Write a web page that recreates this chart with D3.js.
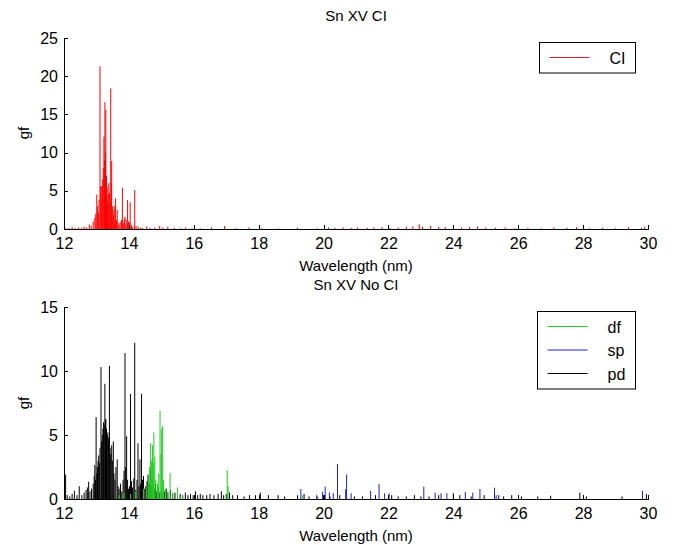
<!DOCTYPE html>
<meta charset="utf-8">
<script src="https://cdn.jsdelivr.net/npm/d3@7"></script>
<style>
body { margin: 0; background: #fff; }
text { font-family: "Liberation Sans", Arial, sans-serif; font-size: 15px; fill: #000; }
.axis path, .axis line { stroke: #000; stroke-width: 1px; shape-rendering: crispEdges; }
</style>
<body>
<script>

// Sn XV, lines with configuration interaction (CI)
var ciWl = [12.05,12.15,12.25,12.35,12.45,12.55,12.62,12.70,12.78,12.84,12.90,12.95,12.98,13.01,13.03,13.06,13.08,13.11,13.13,13.15,
  13.17,13.19,13.21,13.23,13.25,13.26,13.28,13.29,13.31,13.33,13.34,13.36,13.38,13.40,13.42,13.44,13.46,13.47,13.49,13.51,
  13.53,13.55,13.57,13.59,13.62,13.64,13.67,13.70,13.73,13.77,13.80,13.83,13.86,13.88,13.91,13.94,13.96,13.99,14.02,14.04,
  14.08,14.12,14.18,14.22,14.28,14.35,14.42,14.55,14.65,14.80,14.95,15.05,15.20,15.40,15.60,15.75,15.95,16.20,16.55,16.95,
  17.30,17.70,18.10,18.60,19.20,19.80,20.15,20.35,20.60,20.85,21.05,21.35,21.55,21.80,22.05,22.30,22.55,22.75,22.95,23.05,
  23.30,23.55,23.75,24.00,24.25,24.50,24.75,25.00,25.30,25.60,25.90,26.30,26.70,27.10,27.50,27.80,28.20,28.60,29.00,29.40,
  29.80,29.90];
var ciGf = [0.1,0.15,0.3,0.1,0.2,0.15,0.3,0.2,0.6,0.4,1.0,1.5,2.0,4.5,3.0,2.2,3.8,21.3,5.6,5.6,
  4.0,6.5,8.0,12.1,9.0,16.6,10.0,15.6,7.0,5.5,3.3,4.5,6.0,4.7,3.5,18.4,6.0,8.9,3.0,2.5,
  1.8,3.0,1.0,4.0,1.2,2.5,0.8,0.5,0.9,1.2,5.4,0.8,1.3,1.6,0.6,1.2,3.8,1.0,0.8,3.5,
  0.5,0.3,5.1,0.4,0.3,0.2,0.15,0.3,0.15,0.2,0.4,0.2,0.3,0.15,0.1,0.2,0.1,0.1,0.2,0.4,
  0.1,0.2,0.1,0.1,0.15,0.1,0.2,0.15,0.2,0.15,0.2,0.15,0.2,0.25,0.15,0.2,0.3,0.35,0.6,0.3,
  0.4,0.3,0.25,0.3,0.2,0.25,0.35,0.2,0.15,0.2,0.1,0.15,0.1,0.2,0.15,0.25,0.1,0.15,0.1,0.25,
  0.15,0.3];

// Sn XV without CI, split by transition type
var pdWl = [12.02,12.05,12.10,12.18,12.25,12.32,12.40,12.47,12.55,12.62,12.68,12.72,12.76,12.80,12.85,12.90,12.93,12.95,12.97,12.99,
  13.01,13.03,13.05,13.07,13.09,13.11,13.14,13.16,13.18,13.20,13.22,13.24,13.26,13.28,13.29,13.31,13.33,13.35,13.37,13.40,
  13.42,13.44,13.47,13.49,13.52,13.54,13.57,13.60,13.64,13.67,13.70,13.74,13.78,13.82,13.85,13.88,13.90,13.93,13.96,13.99,
  14.02,14.05,14.08,14.11,14.15,14.18,14.21,14.25,14.28,14.31,14.34,14.36,14.39,14.42,14.45,14.49,14.52,14.56,14.59,14.63,
  14.67,14.70,14.74,14.78,14.82,14.86,14.90,14.95,15.00,15.05,15.10,15.15,15.20,15.28,15.35,15.42,15.50,15.58,15.66,15.74,
  15.82,15.90,15.98,16.05,16.12,16.20,16.28,16.40,16.50,16.62,16.75,16.85,16.92,17.00,17.10,17.20,17.35,17.55,17.72,17.90,
  18.05,18.30,18.60,18.80,19.20,19.40,19.55,19.80,20.00,20.20,20.50,20.95,21.20,21.60,22.10,22.30,22.55,22.80,23.00,23.25,
  23.55,24.00,24.20,24.55,24.95,25.40,25.55,25.80,26.10,26.60,27.00,27.90,28.10,29.20,29.95];
var pdGf = [0.3,1.9,0.3,0.2,0.4,0.65,0.3,1.0,0.3,0.5,0.7,0.9,1.35,0.6,0.8,1.2,1.8,2.65,1.5,6.4,
  2.0,2.5,3.0,3.4,2.8,4.0,10.3,4.5,5.0,5.5,6.0,5.8,9.0,6.2,6.25,5.5,5.0,5.2,4.8,10.4,
  4.0,3.5,4.2,3.0,4.5,2.0,1.5,2.5,3.1,1.0,0.8,1.2,0.6,1.5,2.2,11.4,2.5,4.9,1.5,0.8,
  1.0,8.2,1.4,0.9,1.6,12.2,0.7,1.5,4.35,1.0,3.1,1.2,8.2,1.5,1.8,0.8,1.0,1.4,1.9,1.2,
  2.3,1.0,1.5,0.8,1.2,0.6,0.9,0.5,0.7,0.4,0.6,0.8,0.5,0.7,0.4,0.5,0.3,0.4,0.3,0.5,
  0.3,0.4,0.3,0.6,0.3,0.4,0.3,0.3,0.4,0.3,0.4,0.6,0.3,0.4,0.5,0.3,0.3,0.2,0.3,0.3,
  0.5,0.3,0.3,0.2,0.3,0.4,0.2,0.2,0.3,0.2,0.3,0.2,0.2,0.3,0.3,0.2,0.2,0.3,0.2,0.2,
  0.3,0.45,0.3,0.2,0.3,0.3,0.2,0.3,0.2,0.2,0.25,0.5,0.2,0.2,0.4];

var dfWl = [13.70,13.85,14.05,14.20,14.45,14.55,14.60,14.64,14.67,14.70,14.73,14.75,14.77,14.80,14.83,14.88,14.92,14.96,14.99,15.01,
  15.04,15.07,15.12,15.20,15.27,15.35,15.50,15.65,17.03,17.06,19.35];
var dfGf = [0.3,0.5,0.4,0.6,0.8,1.0,1.5,2.5,4.35,3.0,4.2,2.8,5.2,3.3,1.5,1.2,2.0,6.9,3.5,5.5,
  5.7,1.5,0.8,0.6,2.05,0.5,0.9,0.3,2.25,1.0,0.3];

var spWl = [19.30,19.79,19.97,20.05,20.18,20.30,20.43,20.68,20.71,20.85,21.45,21.71,21.88,22.02,23.09,23.44,23.62,23.80,24.37,24.60,
  24.82,25.27,25.32,29.83];
var spGf = [0.78,0.3,0.57,0.96,0.52,0.45,2.73,0.75,1.93,0.45,0.65,1.17,0.44,0.45,0.96,0.5,0.45,0.45,0.55,0.5,
  0.78,0.88,0.3,0.65];

var xTicks = [12,14,16,18,20,22,24,26,28,30];

var width = 674, height = 545;
var svg = d3.select("body").append("svg")
    .attr("width", width)
    .attr("height", height);

var x = d3.scaleLinear().domain([12, 30]).range([64, 648]);

function stems(g, wl, gf, y, color) {
  g.append("g").selectAll("line")
    .data(wl.map(function(w, i) { return [w, gf[i]]; }))
    .enter().append("line")
    .attr("x1", function(d) { return x(d[0]); })
    .attr("x2", function(d) { return x(d[0]); })
    .attr("y1", y(0))
    .attr("y2", function(d) { return y(d[1]); })
    .attr("stroke", color)
    .attr("stroke-width", 1);
}

function axes(y, yTicks, title, titleY, labelY) {
  svg.append("g").attr("class", "axis")
    .attr("transform", "translate(0," + y(0) + ")")
    .call(d3.axisBottom(x).tickValues(xTicks).tickSizeInner(-4).tickSizeOuter(0).tickPadding(9));
  svg.append("g").attr("class", "axis")
    .attr("transform", "translate(64,0)")
    .call(d3.axisLeft(y).tickValues(yTicks).tickSizeInner(-4).tickSizeOuter(0).tickPadding(6));
  svg.selectAll(".axis .domain").attr("stroke", "#000");
  svg.selectAll(".axis text").style("font-size", "16px");

  svg.append("text").attr("x", 356).attr("y", titleY).attr("text-anchor", "middle").text(title);
  svg.append("text").attr("x", 356).attr("y", y(0) + 42).attr("text-anchor", "middle").text("Wavelength (nm)");
  svg.append("text")
    .attr("transform", "translate(29," + labelY + ") rotate(-90)")
    .attr("text-anchor", "middle")
    .text("gf");
}

function legend(bx, by, bw, items) {
  var g = svg.append("g");
  g.append("rect")
    .attr("x", bx).attr("y", by)
    .attr("width", bw).attr("height", items.length * 23.5 + 7)
    .attr("fill", "#fff").attr("stroke", "#000").attr("stroke-width", 1);
  items.forEach(function(it, i) {
    var ly = by + 15 + i * 23.5;
    g.append("line").attr("x1", bx + 10).attr("x2", bx + 50)
      .attr("y1", ly).attr("y2", ly).attr("stroke", it[1]).attr("stroke-width", 1);
    g.append("text").attr("x", bx + 70).attr("y", ly + 6).style("font-size", "16px").text(it[0]);
  });
}

// top panel
var y1 = d3.scaleLinear().domain([0, 25]).range([229, 38]);
stems(svg, ciWl, ciGf, y1, "#ff0000");
axes(y1, [0,5,10,15,20,25], "Sn XV CI", 21, 133);
legend(539.5, 42.5, 96, [["CI", "#d62030"]]);

// bottom panel
var y2 = d3.scaleLinear().domain([0, 15]).range([499, 307]);
stems(svg, pdWl, pdGf, y2, "#000000");
stems(svg, dfWl, dfGf, y2, "#22cc22");
stems(svg, spWl, spGf, y2, "#2020cc");
axes(y2, [0,5,10,15], "Sn XV No CI", 290, 403);
legend(537.5, 311.5, 98, [["df", "#22cc22"], ["sp", "#2020cc"], ["pd", "#000000"]]);

</script>
</body>
